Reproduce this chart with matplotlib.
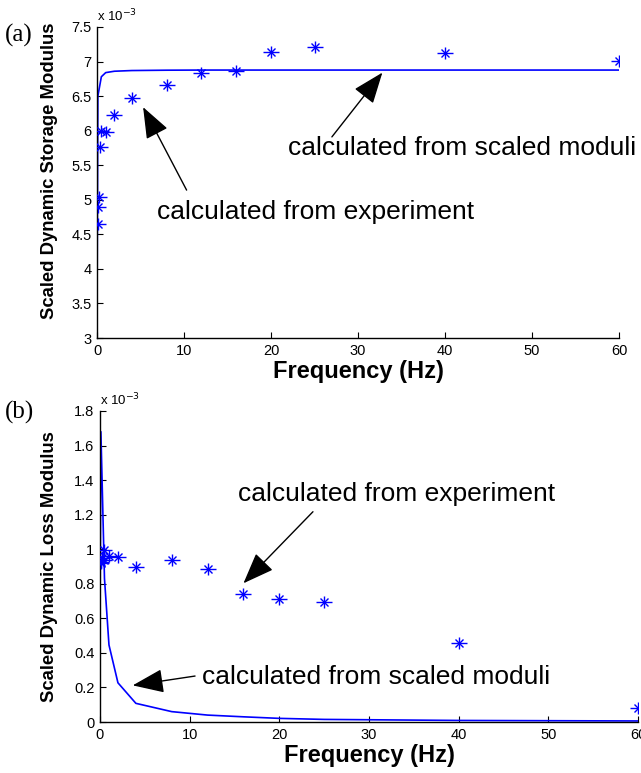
import matplotlib
matplotlib.use("Agg")
import matplotlib.pyplot as plt
import numpy as np

# ---- data (values in units of 1e-3) ----
freq_exp = [0.1, 0.15, 0.2, 0.4, 0.5, 1, 2, 4, 8, 12, 16, 20, 25, 40, 60]
storage_exp = [4.65, 4.90, 5.04, 5.77, 6.00, 5.98, 6.23, 6.47, 6.66, 6.84, 6.86, 7.14, 7.21, 7.12, 7.01]
loss_exp = [0.918, 0.928, 0.947, 0.94, 0.995, 0.96, 0.957, 0.899, 0.937, 0.884, 0.74, 0.712, 0.696, 0.455, 0.083]

freq_model = [0, 0.1, 0.5, 1, 2, 4, 8, 12, 16, 20, 25, 40, 60]
storage_model = [3.30, 6.50, 6.78, 6.84, 6.86, 6.87, 6.875, 6.877, 6.877, 6.877, 6.877, 6.877, 6.877]
loss_model = [0.58, 1.68, 0.83, 0.446, 0.227, 0.108, 0.06, 0.04, 0.03, 0.021, 0.015, 0.009, 0.006]

xticks = [0, 10, 20, 30, 40, 50, 60]
yticks_a = [3, 3.5, 4, 4.5, 5, 5.5, 6, 6.5, 7, 7.5]
yticks_b = [0, 0.2, 0.4, 0.6, 0.8, 1, 1.2, 1.4, 1.6, 1.8]

BLUE = (0, 0, 1)
FONT = "Liberation Sans"
plt.rcParams['font.family'] = [FONT, 'DejaVu Sans']

fig = plt.figure(figsize=(6.41, 7.73), dpi=100)
W, H = 641, 773

def axes_px(l, r, t, b):
    return fig.add_axes([l / W, 1 - b / H, (r - l) / W, (b - t) / H])

ax1 = axes_px(97, 619, 27, 338)
ax2 = axes_px(100, 638, 411, 722)

def star(ax, x, y):
    ax.plot(x, y, ls='none', marker='_', ms=12, mew=1.0, color=BLUE, zorder=3)
    ax.plot(x, y, ls='none', marker='|', ms=8, mew=1.0, color=BLUE, zorder=3)
    ax.plot(x, y, ls='none', marker='x', ms=6, mew=1.0, color=BLUE, zorder=3)

def style(ax, yticks, ylims, ylabels):
    ax.set_xlim(0, 60)
    ax.set_ylim(*ylims)
    ax.set_xticks(xticks)
    ax.set_xticklabels([str(t) for t in xticks])
    ax.set_yticks(yticks)
    ax.set_yticklabels(ylabels)
    for s in ['top', 'right']:
        ax.spines[s].set_visible(False)
    for s in ['left', 'bottom']:
        ax.spines[s].set_linewidth(1.0)
    ax.tick_params(direction='in', length=4, width=0.8, labelsize=10.5, pad=4)
    ax.set_xlabel('Frequency (Hz)', fontsize=17, fontweight='bold', labelpad=2)

# ---- panel (a) ----
ax1.plot(freq_model, storage_model, color=BLUE, lw=1.2, zorder=2)
star(ax1, freq_exp, storage_exp)
style(ax1, yticks_a, (3, 7.5), ['3', '3.5', '4', '4.5', '5', '5.5', '6', '6.5', '7', '7.5'])
ax1.set_ylabel('Scaled Dynamic Storage Modulus', fontsize=13.3, fontweight='bold')
ax1.yaxis.set_label_coords((58 - 97) / 522, 0.537)

# ---- panel (b) ----
ax2.plot(freq_model, loss_model, color=BLUE, lw=1.2, zorder=2)
star(ax2, freq_exp, loss_exp)
style(ax2, yticks_b, (0, 1.8), ['0', '0.2', '0.4', '0.6', '0.8', '1', '1.2', '1.4', '1.6', '1.8'])
ax2.set_ylabel('Scaled Dynamic Loss Modulus', fontsize=13.3, fontweight='bold')
ax2.yaxis.set_label_coords((58 - 100) / 538, 0.5)

for ax in (ax1, ax2):
    ax.text(0.0, 1.01, r'x 10$^{-3}$', transform=ax.transAxes, fontsize=9.5,
            ha='left', va='bottom')

arrow = dict(arrowstyle='-|>,head_length=1.95,head_width=0.75', mutation_scale=10,
             color='black', lw=1.0, shrinkA=0, shrinkB=0)

# arrows (a)
ax1.annotate('', xy=(5.3, 6.34), xytext=(10.3, 5.14), arrowprops=arrow)
ax1.text(6.9, 4.82, 'calculated from experiment', fontsize=19, ha='left', va='center')
ax1.annotate('', xy=(32.8, 6.84), xytext=(27.0, 5.91), arrowprops=arrow)
ax1.text(21.95, 5.75, 'calculated from scaled moduli', fontsize=19, ha='left', va='center',
         clip_on=False)

# arrows (b)
ax2.annotate('', xy=(16.0, 0.803), xytext=(23.75, 1.217), arrowprops=arrow)
ax2.text(15.4, 1.319, 'calculated from experiment', fontsize=19, ha='left', va='center')
ax2.annotate('', xy=(3.65, 0.212), xytext=(10.6, 0.266), arrowprops=arrow)
ax2.text(11.4, 0.26, 'calculated from scaled moduli', fontsize=19, ha='left', va='center')

fig.text(5 / W, 1 - 35 / H, '(a)', fontsize=18, family='Liberation Serif', ha='left', va='center')
fig.text(5 / W, 1 - 412 / H, '(b)', fontsize=18, family='Liberation Serif', ha='left', va='center')

fig.savefig('out.png', dpi=100)
